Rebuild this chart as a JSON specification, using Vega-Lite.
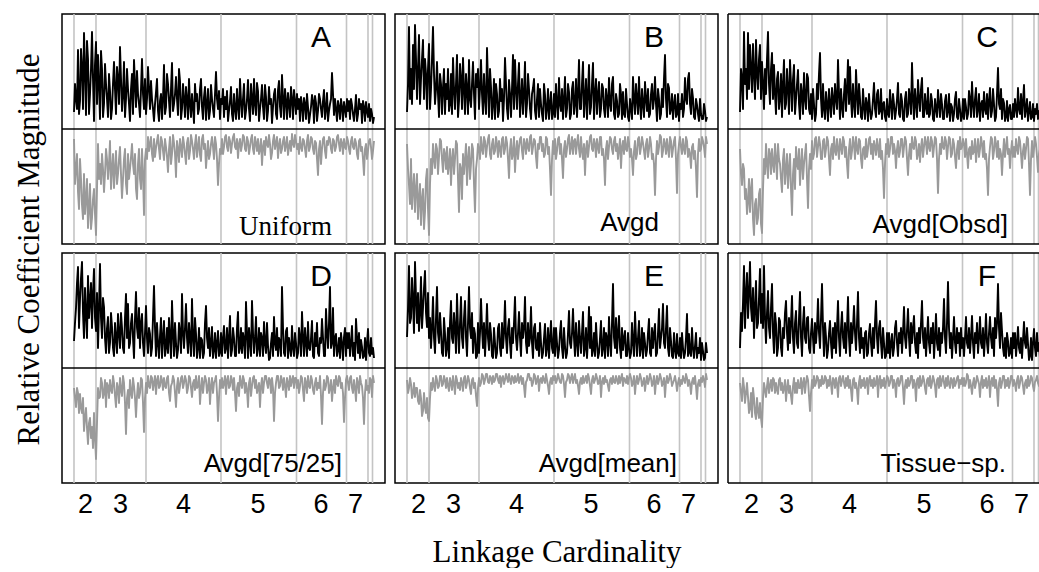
{
"$schema": "https://vega.github.io/schema/vega-lite/v6.json",
"background": "white",
"padding": {"left": 12, "top": 12, "right": 0, "bottom": 0},
"bounds": "flush",
"columns": 3,
"spacing": {"row": 9, "column": 10},
"config": {"view": {"stroke": "black", "strokeWidth": 1.5}, "text": {"font": "Liberation Sans", "color": "black"}, "line": {"strokeJoin": "round"}},
"datasets": {
"bounds": [{"b":12},{"b":34},{"b":84},{"b":159},{"b":234.5},{"b":284.5},{"b":306},{"b":310.5}],
"A": [
{"x":12,"u":17,"d":-10},{"x":14,"u":30,"d":-40},{"x":16,"u":79,"d":-63},{"x":18,"u":28,"d":-30},{"x":20,"u":62,"d":-76},{"x":22,"u":96,"d":-45},{"x":24,"u":14,"d":-70},{"x":26,"u":70,"d":-99},{"x":28,"u":35,"d":-55},{"x":30,"u":97,"d":-89},{"x":32,"u":8,"d":-60},{"x":34,"u":87,"d":-106},
{"x":36,"u":74,"d":-15},{"x":38,"u":10,"d":-35},{"x":40,"u":60,"d":-25},{"x":42,"u":25,"d":-63},{"x":44,"u":45,"d":-20},{"x":46,"u":12,"d":-50},{"x":48,"u":38,"d":-12},{"x":50,"u":20,"d":-40},{"x":52,"u":67,"d":-59},{"x":54,"u":15,"d":-22},{"x":56,"u":50,"d":-45},{"x":58,"u":82,"d":-18},{"x":60,"u":18,"d":-69},{"x":62,"u":67,"d":-30},{"x":64,"u":30,"d":-55},{"x":66,"u":40,"d":-25},{"x":68,"u":8,"d":-40},{"x":70,"u":55,"d":-15},{"x":72,"u":69,"d":-45},{"x":74,"u":22,"d":-60},{"x":76,"u":35,"d":-35},{"x":78,"u":12,"d":-50},{"x":80,"u":70,"d":-20},{"x":82,"u":20,"d":-86},
{"x":84,"u":15,"d":-20},{"x":86,"u":62,"d":-8},{"x":88,"u":20,"d":-15},{"x":90,"u":30,"d":-25},{"x":92,"u":8,"d":-10},{"x":94,"u":37,"d":-19},{"x":96,"u":18,"d":-6},{"x":98,"u":28,"d":-30},{"x":100,"u":10,"d":-12},{"x":102,"u":64,"d":-31},{"x":104,"u":22,"d":-18},{"x":106,"u":45,"d":-43},{"x":108,"u":12,"d":-8},{"x":110,"u":66,"d":-25},{"x":112,"u":25,"d":-14},{"x":114,"u":52,"d":-48},{"x":116,"u":14,"d":-20},{"x":118,"u":48,"d":-10},{"x":120,"u":20,"d":-28},{"x":122,"u":30,"d":-15},{"x":124,"u":42,"d":-35},{"x":126,"u":10,"d":-9},{"x":128,"u":25,"d":-22},{"x":130,"u":35,"d":-12},{"x":132,"u":6,"d":-30},{"x":134,"u":28,"d":-6},{"x":136,"u":15,"d":-18},{"x":138,"u":40,"d":-26},{"x":140,"u":22,"d":-10},{"x":142,"u":32,"d":-20},{"x":144,"u":9,"d":-39},{"x":146,"u":40,"d":-12},{"x":148,"u":18,"d":-25},{"x":150,"u":30,"d":-8},{"x":152,"u":12,"d":-30},{"x":154,"u":57,"d":-15},{"x":156,"u":20,"d":-56},{"x":158,"u":10,"d":-20},
{"x":160,"u":25,"d":-10},{"x":162,"u":12,"d":-18},{"x":164,"u":20,"d":-6},{"x":166,"u":8,"d":-22},{"x":168,"u":28,"d":-12},{"x":170,"u":15,"d":-15},{"x":172,"u":35,"d":-5},{"x":174,"u":10,"d":-20},{"x":176,"u":22,"d":-29},{"x":178,"u":50,"d":-10},{"x":180,"u":12,"d":-16},{"x":182,"u":45,"d":-8},{"x":184,"u":18,"d":-22},{"x":186,"u":49,"d":-12},{"x":188,"u":8,"d":-18},{"x":190,"u":30,"d":-6},{"x":192,"u":50,"d":-25},{"x":194,"u":14,"d":-14},{"x":196,"u":38,"d":-10},{"x":198,"u":20,"d":-20},{"x":200,"u":44,"d":-36},{"x":202,"u":10,"d":-12},{"x":204,"u":32,"d":-8},{"x":206,"u":18,"d":-18},{"x":208,"u":25,"d":-15},{"x":210,"u":6,"d":-24},{"x":212,"u":35,"d":-6},{"x":214,"u":15,"d":-14},{"x":216,"u":39,"d":-29},{"x":218,"u":22,"d":-10},{"x":220,"u":54,"d":-20},{"x":222,"u":10,"d":-8},{"x":224,"u":28,"d":-16},{"x":226,"u":36,"d":-26},{"x":228,"u":12,"d":-12},{"x":230,"u":30,"d":-5},{"x":232,"u":39,"d":-18},{"x":234,"u":15,"d":-12},
{"x":236,"u":20,"d":-15},{"x":238,"u":8,"d":-8},{"x":240,"u":24,"d":-22},{"x":242,"u":31,"d":-12},{"x":244,"u":10,"d":-28},{"x":246,"u":22,"d":-6},{"x":248,"u":14,"d":-18},{"x":250,"u":34,"d":-10},{"x":252,"u":6,"d":-25},{"x":254,"u":26,"d":-14},{"x":256,"u":18,"d":-46},{"x":258,"u":30,"d":-12},{"x":260,"u":12,"d":-20},{"x":262,"u":39,"d":-8},{"x":264,"u":20,"d":-29},{"x":266,"u":8,"d":-16},{"x":268,"u":25,"d":-10},{"x":270,"u":56,"d":-24},{"x":272,"u":14,"d":-12},{"x":274,"u":20,"d":-18},{"x":276,"u":28,"d":-6},{"x":278,"u":10,"d":-22},{"x":280,"u":22,"d":-14},{"x":282,"u":27,"d":-10},{"x":284,"u":12,"d":-20},
{"x":286,"u":18,"d":-12},{"x":288,"u":10,"d":-25},{"x":290,"u":24,"d":-8},{"x":292,"u":8,"d":-20},{"x":294,"u":34,"d":-14},{"x":296,"u":15,"d":-30},{"x":298,"u":20,"d":-10},{"x":300,"u":6,"d":-18},{"x":302,"u":22,"d":-46},{"x":304,"u":27,"d":-15},{"x":306,"u":12,"d":-22},
{"x":308,"u":8,"d":-10},{"x":310,"u":15,"d":-30},{"x":312,"u":12,"d":-12},
{"x":13,"u":45,"d":-55},{"x":15,"u":20,"d":-25},{"x":17,"u":15,"d":-80},{"x":19,"u":80,"d":-50},{"x":21,"u":20,"d":-90},{"x":23,"u":60,"d":-85},{"x":25,"u":88,"d":-50},{"x":27,"u":15,"d":-80},{"x":29,"u":60,"d":-100},{"x":31,"u":50,"d":-70},{"x":33,"u":65,"d":-85},{"x":35,"u":25,"d":-60},
{"x":37,"u":45,"d":-50},{"x":39,"u":78,"d":-55},{"x":41,"u":12,"d":-40},{"x":43,"u":65,"d":-45},{"x":45,"u":30,"d":-30},{"x":47,"u":55,"d":-35},{"x":49,"u":10,"d":-60},{"x":51,"u":45,"d":-25},{"x":53,"u":40,"d":-40},{"x":55,"u":62,"d":-55},{"x":57,"u":25,"d":-30},{"x":59,"u":50,"d":-45},{"x":61,"u":35,"d":-50},{"x":63,"u":12,"d":-20},{"x":65,"u":60,"d":-65},{"x":67,"u":25,"d":-50},{"x":69,"u":40,"d":-28},{"x":71,"u":15,"d":-35},{"x":73,"u":45,"d":-25},{"x":75,"u":58,"d":-70},{"x":77,"u":25,"d":-20},{"x":79,"u":40,"d":-60},{"x":81,"u":35,"d":-45},{"x":83,"u":50,"d":-30},
{"x":85,"u":30,"d":-30},{"x":87,"u":40,"d":-22},{"x":89,"u":48,"d":-8},{"x":91,"u":20,"d":-32},{"x":93,"u":25,"d":-28},{"x":95,"u":50,"d":-12},{"x":97,"u":8,"d":-20},{"x":99,"u":35,"d":-8},{"x":101,"u":30,"d":-22},{"x":103,"u":15,"d":-10},{"x":105,"u":55,"d":-28},{"x":107,"u":28,"d":-20},{"x":109,"u":40,"d":-35},{"x":111,"u":18,"d":-6},{"x":113,"u":35,"d":-25},{"x":115,"u":30,"d":-12},{"x":117,"u":60,"d":-33},{"x":119,"u":10,"d":-18},{"x":121,"u":45,"d":-8},{"x":123,"u":12,"d":-25},{"x":125,"u":30,"d":-14},{"x":127,"u":50,"d":-30},{"x":129,"u":12,"d":-6},{"x":131,"u":22,"d":-20},{"x":133,"u":45,"d":-15},{"x":135,"u":35,"d":-28},{"x":137,"u":20,"d":-8},{"x":139,"u":50,"d":-32},{"x":141,"u":10,"d":-6},{"x":143,"u":42,"d":-15},{"x":145,"u":25,"d":-25},{"x":147,"u":10,"d":-30},{"x":149,"u":44,"d":-15},{"x":151,"u":20,"d":-18},{"x":153,"u":35,"d":-8},{"x":155,"u":30,"d":-30},{"x":157,"u":38,"d":-35},{"x":159,"u":30,"d":-25},
{"x":161,"u":40,"d":-25},{"x":163,"u":32,"d":-8},{"x":165,"u":38,"d":-18},{"x":167,"u":18,"d":-8},{"x":169,"u":42,"d":-24},{"x":171,"u":8,"d":-8},{"x":173,"u":20,"d":-18},{"x":175,"u":40,"d":-10},{"x":177,"u":10,"d":-15},{"x":179,"u":28,"d":-22},{"x":181,"u":30,"d":-6},{"x":183,"u":10,"d":-20},{"x":185,"u":30,"d":-8},{"x":187,"u":20,"d":-25},{"x":189,"u":45,"d":-10},{"x":191,"u":15,"d":-20},{"x":193,"u":25,"d":-8},{"x":195,"u":46,"d":-22},{"x":197,"u":8,"d":-25},{"x":199,"u":30,"d":-10},{"x":201,"u":22,"d":-18},{"x":203,"u":44,"d":-26},{"x":205,"u":8,"d":-15},{"x":207,"u":42,"d":-6},{"x":209,"u":30,"d":-30},{"x":211,"u":22,"d":-12},{"x":213,"u":40,"d":-20},{"x":215,"u":10,"d":-8},{"x":217,"u":48,"d":-16},{"x":219,"u":12,"d":-24},{"x":221,"u":30,"d":-12},{"x":223,"u":40,"d":-22},{"x":225,"u":10,"d":-8},{"x":227,"u":25,"d":-18},{"x":229,"u":42,"d":-22},{"x":231,"u":10,"d":-15},{"x":233,"u":28,"d":-6},{"x":235,"u":35,"d":-20},
{"x":237,"u":30,"d":-25},{"x":239,"u":32,"d":-18},{"x":241,"u":8,"d":-10},{"x":243,"u":25,"d":-20},{"x":245,"u":35,"d":-12},{"x":247,"u":6,"d":-22},{"x":249,"u":22,"d":-8},{"x":251,"u":28,"d":-20},{"x":253,"u":33,"d":-12},{"x":255,"u":8,"d":-30},{"x":257,"u":35,"d":-20},{"x":259,"u":20,"d":-35},{"x":261,"u":28,"d":-10},{"x":263,"u":10,"d":-22},{"x":265,"u":36,"d":-12},{"x":267,"u":18,"d":-8},{"x":269,"u":30,"d":-20},{"x":271,"u":35,"d":-10},{"x":273,"u":30,"d":-22},{"x":275,"u":8,"d":-8},{"x":277,"u":22,"d":-15},{"x":279,"u":30,"d":-10},{"x":281,"u":8,"d":-25},{"x":283,"u":20,"d":-18},{"x":285,"u":30,"d":-8},
{"x":287,"u":28,"d":-20},{"x":289,"u":30,"d":-12},{"x":291,"u":15,"d":-18},{"x":293,"u":20,"d":-10},{"x":295,"u":8,"d":-25},{"x":297,"u":30,"d":-12},{"x":299,"u":25,"d":-22},{"x":301,"u":28,"d":-30},{"x":303,"u":8,"d":-20},{"x":305,"u":18,"d":-30},{"x":307,"u":25,"d":-12},{"x":309,"u":20,"d":-18},{"x":311,"u":6,"d":-22}
],
"B": [
{"x":12,"u":17,"d":-15},{"x":14,"u":102,"d":-56},{"x":16,"u":60,"d":-30},{"x":18,"u":84,"d":-60},{"x":20,"u":104,"d":-83},{"x":22,"u":30,"d":-45},{"x":24,"u":94,"d":-70},{"x":26,"u":50,"d":-96},{"x":28,"u":89,"d":-60},{"x":30,"u":70,"d":-83},{"x":32,"u":20,"d":-40},{"x":34,"u":85,"d":-106},
{"x":36,"u":40,"d":-30},{"x":38,"u":102,"d":-15},{"x":40,"u":25,"d":-39},{"x":42,"u":67,"d":-20},{"x":44,"u":12,"d":-28},{"x":46,"u":45,"d":-12},{"x":48,"u":41,"d":-43},{"x":50,"u":15,"d":-25},{"x":52,"u":30,"d":-18},{"x":54,"u":18,"d":-35},{"x":56,"u":55,"d":-56},{"x":58,"u":71,"d":-20},{"x":60,"u":20,"d":-30},{"x":62,"u":74,"d":-15},{"x":64,"u":28,"d":-83},{"x":66,"u":50,"d":-40},{"x":68,"u":71,"d":-25},{"x":70,"u":15,"d":-30},{"x":72,"u":40,"d":-56},{"x":74,"u":69,"d":-18},{"x":76,"u":22,"d":-35},{"x":78,"u":67,"d":-20},{"x":80,"u":10,"d":-83},{"x":82,"u":42,"d":-30},
{"x":84,"u":20,"d":-20},{"x":86,"u":69,"d":-8},{"x":88,"u":15,"d":-25},{"x":90,"u":30,"d":-12},{"x":92,"u":81,"d":-18},{"x":94,"u":12,"d":-6},{"x":96,"u":42,"d":-30},{"x":98,"u":25,"d":-10},{"x":100,"u":10,"d":-22},{"x":102,"u":35,"d":-15},{"x":104,"u":18,"d":-12},{"x":106,"u":28,"d":-28},{"x":108,"u":8,"d":-8},{"x":110,"u":71,"d":-20},{"x":112,"u":20,"d":-14},{"x":114,"u":49,"d":-49},{"x":116,"u":12,"d":-10},{"x":118,"u":74,"d":-25},{"x":120,"u":69,"d":-43},{"x":122,"u":20,"d":-12},{"x":124,"u":66,"d":-18},{"x":126,"u":30,"d":-8},{"x":128,"u":15,"d":-30},{"x":130,"u":67,"d":-15},{"x":132,"u":25,"d":-10},{"x":134,"u":40,"d":-22},{"x":136,"u":10,"d":-6},{"x":138,"u":41,"d":-18},{"x":140,"u":18,"d":-12},{"x":142,"u":30,"d":-39},{"x":144,"u":12,"d":-20},{"x":146,"u":25,"d":-8},{"x":148,"u":8,"d":-15},{"x":150,"u":34,"d":-25},{"x":152,"u":20,"d":-10},{"x":154,"u":10,"d":-18},{"x":156,"u":37,"d":-66},{"x":158,"u":15,"d":-12},
{"x":160,"u":12,"d":-10},{"x":162,"u":25,"d":-22},{"x":164,"u":51,"d":-8},{"x":166,"u":18,"d":-15},{"x":168,"u":10,"d":-49},{"x":170,"u":52,"d":-12},{"x":172,"u":20,"d":-20},{"x":174,"u":37,"d":-6},{"x":176,"u":15,"d":-18},{"x":178,"u":47,"d":-25},{"x":180,"u":25,"d":-10},{"x":182,"u":12,"d":-14},{"x":184,"u":69,"d":-20},{"x":186,"u":20,"d":-8},{"x":188,"u":67,"d":-30},{"x":190,"u":30,"d":-46},{"x":192,"u":10,"d":-12},{"x":194,"u":64,"d":-18},{"x":196,"u":22,"d":-6},{"x":198,"u":66,"d":-22},{"x":200,"u":35,"d":-15},{"x":202,"u":15,"d":-10},{"x":204,"u":47,"d":-24},{"x":206,"u":20,"d":-8},{"x":208,"u":41,"d":-20},{"x":210,"u":12,"d":-56},{"x":212,"u":30,"d":-12},{"x":214,"u":51,"d":-18},{"x":216,"u":18,"d":-10},{"x":218,"u":52,"d":-25},{"x":220,"u":10,"d":-8},{"x":222,"u":28,"d":-15},{"x":224,"u":15,"d":-20},{"x":226,"u":35,"d":-39},{"x":228,"u":37,"d":-12},{"x":230,"u":12,"d":-8},{"x":232,"u":25,"d":-22},{"x":234,"u":8,"d":-14},
{"x":236,"u":20,"d":-20},{"x":238,"u":52,"d":-46},{"x":240,"u":15,"d":-12},{"x":242,"u":30,"d":-25},{"x":244,"u":52,"d":-8},{"x":246,"u":10,"d":-18},{"x":248,"u":25,"d":-14},{"x":250,"u":47,"d":-30},{"x":252,"u":18,"d":-10},{"x":254,"u":12,"d":-20},{"x":256,"u":35,"d":-15},{"x":258,"u":20,"d":-25},{"x":260,"u":52,"d":-66},{"x":262,"u":8,"d":-12},{"x":264,"u":30,"d":-18},{"x":266,"u":15,"d":-8},{"x":268,"u":22,"d":-22},{"x":270,"u":74,"d":-15},{"x":272,"u":12,"d":-10},{"x":274,"u":41,"d":-28},{"x":276,"u":20,"d":-12},{"x":278,"u":10,"d":-20},{"x":280,"u":34,"d":-8},{"x":282,"u":15,"d":-64},{"x":284,"u":8,"d":-15},
{"x":286,"u":20,"d":-18},{"x":288,"u":12,"d":-10},{"x":290,"u":51,"d":-25},{"x":292,"u":25,"d":-12},{"x":294,"u":56,"d":-20},{"x":296,"u":15,"d":-39},{"x":298,"u":31,"d":-15},{"x":300,"u":10,"d":-22},{"x":302,"u":24,"d":-68},{"x":304,"u":8,"d":-10},{"x":306,"u":15,"d":-20},
{"x":308,"u":10,"d":-12},{"x":310,"u":18,"d":-28},{"x":312,"u":12,"d":-15},
{"x":13,"u":45,"d":-40},{"x":15,"u":30,"d":-75},{"x":17,"u":25,"d":-80},{"x":19,"u":40,"d":-45},{"x":21,"u":70,"d":-60},{"x":23,"u":60,"d":-90},{"x":25,"u":25,"d":-55},{"x":27,"u":70,"d":-70},{"x":29,"u":30,"d":-100},{"x":31,"u":55,"d":-50},{"x":33,"u":60,"d":-80},{"x":35,"u":20,"d":-55},
{"x":37,"u":70,"d":-45},{"x":39,"u":55,"d":-30},{"x":41,"u":40,"d":-15},{"x":43,"u":35,"d":-45},{"x":45,"u":55,"d":-10},{"x":47,"u":15,"d":-30},{"x":49,"u":60,"d":-20},{"x":51,"u":45,"d":-40},{"x":53,"u":60,"d":-45},{"x":55,"u":25,"d":-20},{"x":57,"u":15,"d":-30},{"x":59,"u":40,"d":-45},{"x":61,"u":45,"d":-12},{"x":63,"u":12,"d":-50},{"x":65,"u":65,"d":-35},{"x":67,"u":20,"d":-70},{"x":69,"u":40,"d":-45},{"x":71,"u":55,"d":-15},{"x":73,"u":15,"d":-30},{"x":75,"u":30,"d":-50},{"x":77,"u":45,"d":-15},{"x":79,"u":35,"d":-55},{"x":81,"u":55,"d":-40},{"x":83,"u":60,"d":-15},
{"x":85,"u":40,"d":-30},{"x":87,"u":35,"d":-20},{"x":89,"u":55,"d":-8},{"x":91,"u":15,"d":-28},{"x":93,"u":45,"d":-10},{"x":95,"u":60,"d":-25},{"x":97,"u":10,"d":-15},{"x":99,"u":50,"d":-25},{"x":101,"u":45,"d":-8},{"x":103,"u":12,"d":-28},{"x":105,"u":50,"d":-20},{"x":107,"u":40,"d":-10},{"x":109,"u":30,"d":-25},{"x":111,"u":45,"d":-8},{"x":113,"u":10,"d":-30},{"x":115,"u":35,"d":-20},{"x":117,"u":40,"d":-30},{"x":119,"u":20,"d":-8},{"x":121,"u":40,"d":-22},{"x":123,"u":45,"d":-30},{"x":125,"u":12,"d":-10},{"x":127,"u":50,"d":-22},{"x":129,"u":35,"d":-10},{"x":131,"u":12,"d":-25},{"x":133,"u":55,"d":-18},{"x":135,"u":20,"d":-8},{"x":137,"u":35,"d":-25},{"x":139,"u":50,"d":-10},{"x":141,"u":10,"d":-28},{"x":143,"u":45,"d":-15},{"x":145,"u":40,"d":-8},{"x":147,"u":15,"d":-22},{"x":149,"u":45,"d":-28},{"x":151,"u":10,"d":-8},{"x":153,"u":40,"d":-25},{"x":155,"u":25,"d":-40},{"x":157,"u":10,"d":-30},{"x":159,"u":35,"d":-25},
{"x":161,"u":45,"d":-30},{"x":163,"u":10,"d":-10},{"x":165,"u":25,"d":-25},{"x":167,"u":40,"d":-30},{"x":169,"u":30,"d":-20},{"x":171,"u":12,"d":-28},{"x":173,"u":45,"d":-10},{"x":175,"u":10,"d":-25},{"x":177,"u":40,"d":-8},{"x":179,"u":15,"d":-12},{"x":181,"u":50,"d":-25},{"x":183,"u":35,"d":-6},{"x":185,"u":20,"d":-28},{"x":187,"u":45,"d":-22},{"x":189,"u":12,"d":-15},{"x":191,"u":50,"d":-20},{"x":193,"u":35,"d":-28},{"x":195,"u":15,"d":-8},{"x":197,"u":45,"d":-20},{"x":199,"u":10,"d":-10},{"x":201,"u":50,"d":-28},{"x":203,"u":35,"d":-18},{"x":205,"u":12,"d":-8},{"x":207,"u":45,"d":-26},{"x":209,"u":20,"d":-30},{"x":211,"u":40,"d":-20},{"x":213,"u":12,"d":-30},{"x":215,"u":25,"d":-8},{"x":217,"u":45,"d":-20},{"x":219,"u":15,"d":-12},{"x":221,"u":35,"d":-22},{"x":223,"u":12,"d":-30},{"x":225,"u":45,"d":-10},{"x":227,"u":10,"d":-18},{"x":229,"u":15,"d":-25},{"x":231,"u":40,"d":-20},{"x":233,"u":12,"d":-8},{"x":235,"u":30,"d":-28},
{"x":237,"u":10,"d":-30},{"x":239,"u":30,"d":-22},{"x":241,"u":45,"d":-30},{"x":243,"u":15,"d":-10},{"x":245,"u":25,"d":-25},{"x":247,"u":40,"d":-8},{"x":249,"u":12,"d":-22},{"x":251,"u":30,"d":-15},{"x":253,"u":40,"d":-28},{"x":255,"u":15,"d":-8},{"x":257,"u":45,"d":-30},{"x":259,"u":30,"d":-35},{"x":261,"u":25,"d":-30},{"x":263,"u":40,"d":-25},{"x":265,"u":10,"d":-6},{"x":267,"u":40,"d":-28},{"x":269,"u":50,"d":-10},{"x":271,"u":30,"d":-25},{"x":273,"u":45,"d":-20},{"x":275,"u":15,"d":-8},{"x":277,"u":35,"d":-28},{"x":279,"u":25,"d":-12},{"x":281,"u":12,"d":-30},{"x":283,"u":35,"d":-25},{"x":285,"u":25,"d":-8},
{"x":287,"u":35,"d":-25},{"x":289,"u":20,"d":-20},{"x":291,"u":30,"d":-8},{"x":293,"u":50,"d":-28},{"x":295,"u":25,"d":-25},{"x":297,"u":40,"d":-18},{"x":299,"u":12,"d":-30},{"x":301,"u":30,"d":-40},{"x":303,"u":15,"d":-25},{"x":305,"u":30,"d":-22},{"x":307,"u":10,"d":-8},{"x":309,"u":25,"d":-18},{"x":311,"u":8,"d":-8}
],
"C": [
{"x":12,"u":17,"d":-20},{"x":14,"u":51,"d":-56},{"x":16,"u":97,"d":-40},{"x":18,"u":60,"d":-60},{"x":20,"u":96,"d":-73},{"x":22,"u":84,"d":-83},{"x":24,"u":37,"d":-50},{"x":26,"u":55,"d":-106},{"x":28,"u":89,"d":-70},{"x":30,"u":40,"d":-89},{"x":32,"u":84,"d":-60},{"x":34,"u":67,"d":-104},
{"x":36,"u":20,"d":-30},{"x":38,"u":35,"d":-15},{"x":40,"u":97,"d":-49},{"x":42,"u":25,"d":-25},{"x":44,"u":76,"d":-20},{"x":46,"u":64,"d":-43},{"x":48,"u":15,"d":-30},{"x":50,"u":57,"d":-15},{"x":52,"u":30,"d":-35},{"x":54,"u":12,"d":-63},{"x":56,"u":69,"d":-20},{"x":58,"u":25,"d":-40},{"x":60,"u":40,"d":-59},{"x":62,"u":69,"d":-25},{"x":64,"u":18,"d":-86},{"x":66,"u":64,"d":-30},{"x":68,"u":30,"d":-18},{"x":70,"u":59,"d":-40},{"x":72,"u":10,"d":-56},{"x":74,"u":35,"d":-20},{"x":76,"u":56,"d":-35},{"x":78,"u":20,"d":-15},{"x":80,"u":51,"d":-79},{"x":82,"u":15,"d":-25},
{"x":84,"u":10,"d":-12},{"x":86,"u":25,"d":-25},{"x":88,"u":15,"d":-8},{"x":90,"u":30,"d":-18},{"x":92,"u":76,"d":-15},{"x":94,"u":12,"d":-30},{"x":96,"u":20,"d":-10},{"x":98,"u":37,"d":-20},{"x":100,"u":8,"d":-12},{"x":102,"u":25,"d":-46},{"x":104,"u":41,"d":-15},{"x":106,"u":15,"d":-8},{"x":108,"u":30,"d":-26},{"x":110,"u":69,"d":-20},{"x":112,"u":10,"d":-10},{"x":114,"u":22,"d":-25},{"x":116,"u":35,"d":-12},{"x":118,"u":18,"d":-18},{"x":120,"u":69,"d":-49},{"x":122,"u":62,"d":-10},{"x":124,"u":12,"d":-22},{"x":126,"u":25,"d":-15},{"x":128,"u":59,"d":-8},{"x":130,"u":15,"d":-25},{"x":132,"u":30,"d":-12},{"x":134,"u":10,"d":-39},{"x":136,"u":22,"d":-18},{"x":138,"u":31,"d":-10},{"x":140,"u":8,"d":-20},{"x":142,"u":20,"d":-8},{"x":144,"u":15,"d":-15},{"x":146,"u":46,"d":-12},{"x":148,"u":12,"d":-26},{"x":150,"u":39,"d":-18},{"x":152,"u":18,"d":-10},{"x":154,"u":10,"d":-22},{"x":156,"u":27,"d":-69},{"x":158,"u":8,"d":-15},
{"x":160,"u":15,"d":-10},{"x":162,"u":39,"d":-20},{"x":164,"u":10,"d":-8},{"x":166,"u":25,"d":-15},{"x":168,"u":18,"d":-39},{"x":170,"u":46,"d":-12},{"x":172,"u":12,"d":-22},{"x":174,"u":28,"d":-10},{"x":176,"u":8,"d":-18},{"x":178,"u":37,"d":-12},{"x":180,"u":15,"d":-46},{"x":182,"u":30,"d":-15},{"x":184,"u":66,"d":-8},{"x":186,"u":10,"d":-20},{"x":188,"u":25,"d":-12},{"x":190,"u":49,"d":-25},{"x":192,"u":18,"d":-33},{"x":194,"u":51,"d":-10},{"x":196,"u":12,"d":-18},{"x":198,"u":22,"d":-14},{"x":200,"u":41,"d":-8},{"x":202,"u":15,"d":-22},{"x":204,"u":28,"d":-12},{"x":206,"u":8,"d":-18},{"x":208,"u":20,"d":-10},{"x":210,"u":39,"d":-64},{"x":212,"u":12,"d":-15},{"x":214,"u":25,"d":-8},{"x":216,"u":10,"d":-20},{"x":218,"u":34,"d":-12},{"x":220,"u":18,"d":-18},{"x":222,"u":8,"d":-10},{"x":224,"u":22,"d":-25},{"x":226,"u":15,"d":-15},{"x":228,"u":37,"d":-39},{"x":230,"u":10,"d":-12},{"x":232,"u":20,"d":-8},{"x":234,"u":12,"d":-18},
{"x":236,"u":10,"d":-15},{"x":238,"u":22,"d":-10},{"x":240,"u":15,"d":-39},{"x":242,"u":30,"d":-18},{"x":244,"u":47,"d":-12},{"x":246,"u":12,"d":-22},{"x":248,"u":41,"d":-33},{"x":250,"u":20,"d":-10},{"x":252,"u":8,"d":-20},{"x":254,"u":28,"d":-15},{"x":256,"u":37,"d":-12},{"x":258,"u":15,"d":-25},{"x":260,"u":10,"d":-66},{"x":262,"u":41,"d":-18},{"x":264,"u":18,"d":-10},{"x":266,"u":25,"d":-22},{"x":268,"u":12,"d":-15},{"x":270,"u":61,"d":-12},{"x":272,"u":20,"d":-20},{"x":274,"u":10,"d":-46},{"x":276,"u":26,"d":-10},{"x":278,"u":12,"d":-18},{"x":280,"u":8,"d":-25},{"x":282,"u":24,"d":-39},{"x":284,"u":10,"d":-12},
{"x":286,"u":12,"d":-18},{"x":288,"u":20,"d":-10},{"x":290,"u":41,"d":-25},{"x":292,"u":15,"d":-12},{"x":294,"u":10,"d":-39},{"x":296,"u":44,"d":-15},{"x":298,"u":20,"d":-20},{"x":300,"u":8,"d":-10},{"x":302,"u":27,"d":-66},{"x":304,"u":12,"d":-12},{"x":306,"u":8,"d":-20},
{"x":308,"u":15,"d":-15},{"x":310,"u":10,"d":-43},{"x":312,"u":12,"d":-20},
{"x":13,"u":60,"d":-45},{"x":15,"u":20,"d":-35},{"x":17,"u":45,"d":-70},{"x":19,"u":30,"d":-85},{"x":21,"u":40,"d":-50},{"x":23,"u":60,"d":-60},{"x":25,"u":85,"d":-90},{"x":27,"u":30,"d":-75},{"x":29,"u":55,"d":-95},{"x":31,"u":70,"d":-65},{"x":33,"u":30,"d":-95},{"x":35,"u":45,"d":-60},
{"x":37,"u":60,"d":-45},{"x":39,"u":70,"d":-35},{"x":41,"u":45,"d":-20},{"x":43,"u":60,"d":-45},{"x":45,"u":30,"d":-35},{"x":47,"u":35,"d":-15},{"x":49,"u":50,"d":-50},{"x":51,"u":20,"d":-30},{"x":53,"u":55,"d":-50},{"x":55,"u":45,"d":-30},{"x":57,"u":20,"d":-55},{"x":59,"u":60,"d":-25},{"x":61,"u":15,"d":-40},{"x":63,"u":45,"d":-60},{"x":65,"u":50,"d":-45},{"x":67,"u":15,"d":-60},{"x":69,"u":45,"d":-35},{"x":71,"u":25,"d":-20},{"x":73,"u":45,"d":-35},{"x":75,"u":15,"d":-50},{"x":77,"u":30,"d":-25},{"x":79,"u":55,"d":-50},{"x":81,"u":20,"d":-40},{"x":83,"u":35,"d":-40},
{"x":85,"u":40,"d":-30},{"x":87,"u":8,"d":-10},{"x":89,"u":45,"d":-28},{"x":91,"u":55,"d":-8},{"x":93,"u":30,"d":-30},{"x":95,"u":45,"d":-12},{"x":97,"u":10,"d":-28},{"x":99,"u":25,"d":-8},{"x":101,"u":40,"d":-30},{"x":103,"u":12,"d":-20},{"x":105,"u":30,"d":-30},{"x":107,"u":45,"d":-22},{"x":109,"u":20,"d":-10},{"x":111,"u":35,"d":-30},{"x":113,"u":40,"d":-18},{"x":115,"u":12,"d":-8},{"x":117,"u":50,"d":-28},{"x":119,"u":40,"d":-35},{"x":121,"u":25,"d":-20},{"x":123,"u":30,"d":-30},{"x":125,"u":45,"d":-8},{"x":127,"u":12,"d":-30},{"x":129,"u":35,"d":-20},{"x":131,"u":45,"d":-10},{"x":133,"u":12,"d":-30},{"x":135,"u":40,"d":-20},{"x":137,"u":10,"d":-30},{"x":139,"u":25,"d":-28},{"x":141,"u":35,"d":-10},{"x":143,"u":10,"d":-25},{"x":145,"u":30,"d":-30},{"x":147,"u":20,"d":-18},{"x":149,"u":35,"d":-10},{"x":151,"u":15,"d":-28},{"x":153,"u":40,"d":-30},{"x":155,"u":25,"d":-40},{"x":157,"u":12,"d":-35},{"x":159,"u":30,"d":-25},
{"x":161,"u":12,"d":-28},{"x":163,"u":25,"d":-8},{"x":165,"u":35,"d":-25},{"x":167,"u":10,"d":-22},{"x":169,"u":30,"d":-20},{"x":171,"u":15,"d":-28},{"x":173,"u":35,"d":-10},{"x":175,"u":10,"d":-28},{"x":177,"u":30,"d":-8},{"x":179,"u":12,"d":-30},{"x":181,"u":40,"d":-25},{"x":183,"u":15,"d":-30},{"x":185,"u":30,"d":-18},{"x":187,"u":40,"d":-8},{"x":189,"u":12,"d":-30},{"x":191,"u":30,"d":-15},{"x":193,"u":40,"d":-18},{"x":195,"u":12,"d":-28},{"x":197,"u":35,"d":-8},{"x":199,"u":15,"d":-25},{"x":201,"u":12,"d":-18},{"x":203,"u":35,"d":-8},{"x":205,"u":10,"d":-28},{"x":207,"u":30,"d":-8},{"x":209,"u":12,"d":-30},{"x":211,"u":25,"d":-30},{"x":213,"u":35,"d":-25},{"x":215,"u":10,"d":-18},{"x":217,"u":28,"d":-8},{"x":219,"u":12,"d":-30},{"x":221,"u":35,"d":-8},{"x":223,"u":25,"d":-28},{"x":225,"u":8,"d":-10},{"x":227,"u":30,"d":-28},{"x":229,"u":12,"d":-20},{"x":231,"u":30,"d":-30},{"x":233,"u":8,"d":-20},{"x":235,"u":30,"d":-10},
{"x":237,"u":30,"d":-28},{"x":239,"u":10,"d":-25},{"x":241,"u":38,"d":-20},{"x":243,"u":12,"d":-30},{"x":245,"u":25,"d":-25},{"x":247,"u":30,"d":-10},{"x":249,"u":12,"d":-20},{"x":251,"u":35,"d":-28},{"x":253,"u":25,"d":-8},{"x":255,"u":12,"d":-28},{"x":257,"u":20,"d":-30},{"x":259,"u":35,"d":-40},{"x":261,"u":28,"d":-30},{"x":263,"u":12,"d":-8},{"x":265,"u":40,"d":-30},{"x":267,"u":8,"d":-8},{"x":269,"u":35,"d":-28},{"x":271,"u":25,"d":-30},{"x":273,"u":40,"d":-25},{"x":275,"u":30,"d":-25},{"x":277,"u":8,"d":-28},{"x":279,"u":28,"d":-8},{"x":281,"u":20,"d":-20},{"x":283,"u":10,"d":-22},{"x":285,"u":25,"d":-28},
{"x":287,"u":30,"d":-28},{"x":289,"u":12,"d":-20},{"x":291,"u":20,"d":-8},{"x":293,"u":35,"d":-25},{"x":295,"u":28,"d":-22},{"x":297,"u":12,"d":-30},{"x":299,"u":30,"d":-8},{"x":301,"u":18,"d":-35},{"x":303,"u":10,"d":-30},{"x":305,"u":25,"d":-28},{"x":307,"u":20,"d":-8},{"x":309,"u":25,"d":-28},{"x":311,"u":18,"d":-25}
],
"D": [
{"x":12,"u":27,"d":-20},{"x":14,"u":60,"d":-39},{"x":16,"u":101,"d":-25},{"x":18,"u":69,"d":-26},{"x":20,"u":106,"d":-45},{"x":22,"u":30,"d":-63},{"x":24,"u":54,"d":-40},{"x":26,"u":92,"d":-76},{"x":28,"u":67,"d":-50},{"x":30,"u":40,"d":-59},{"x":32,"u":99,"d":-45},{"x":34,"u":37,"d":-91},
{"x":36,"u":20,"d":-20},{"x":38,"u":104,"d":-29},{"x":40,"u":30,"d":-15},{"x":42,"u":61,"d":-25},{"x":44,"u":15,"d":-39},{"x":46,"u":51,"d":-18},{"x":48,"u":25,"d":-12},{"x":50,"u":41,"d":-25},{"x":52,"u":12,"d":-15},{"x":54,"u":30,"d":-39},{"x":56,"u":54,"d":-20},{"x":58,"u":20,"d":-10},{"x":60,"u":40,"d":-28},{"x":62,"u":15,"d":-15},{"x":64,"u":74,"d":-66},{"x":66,"u":64,"d":-22},{"x":68,"u":25,"d":-12},{"x":70,"u":54,"d":-30},{"x":72,"u":10,"d":-18},{"x":74,"u":76,"d":-49},{"x":76,"u":30,"d":-15},{"x":78,"u":20,"d":-25},{"x":80,"u":54,"d":-12},{"x":82,"u":12,"d":-64},
{"x":84,"u":62,"d":-15},{"x":86,"u":15,"d":-8},{"x":88,"u":34,"d":-20},{"x":90,"u":20,"d":-10},{"x":92,"u":82,"d":-15},{"x":94,"u":12,"d":-26},{"x":96,"u":25,"d":-8},{"x":98,"u":32,"d":-18},{"x":100,"u":10,"d":-12},{"x":102,"u":47,"d":-10},{"x":104,"u":20,"d":-20},{"x":106,"u":15,"d":-8},{"x":108,"u":30,"d":-33},{"x":110,"u":67,"d":-15},{"x":112,"u":12,"d":-12},{"x":114,"u":25,"d":-39},{"x":116,"u":18,"d":-10},{"x":118,"u":35,"d":-18},{"x":120,"u":74,"d":-8},{"x":122,"u":20,"d":-15},{"x":124,"u":64,"d":-12},{"x":126,"u":15,"d":-20},{"x":128,"u":30,"d":-10},{"x":130,"u":69,"d":-29},{"x":132,"u":12,"d":-12},{"x":134,"u":34,"d":-8},{"x":136,"u":20,"d":-18},{"x":138,"u":10,"d":-36},{"x":140,"u":28,"d":-10},{"x":142,"u":15,"d":-15},{"x":144,"u":62,"d":-12},{"x":146,"u":20,"d":-20},{"x":148,"u":12,"d":-36},{"x":150,"u":41,"d":-10},{"x":152,"u":18,"d":-15},{"x":154,"u":10,"d":-8},{"x":156,"u":37,"d":-53},{"x":158,"u":15,"d":-12},
{"x":160,"u":12,"d":-10},{"x":162,"u":42,"d":-15},{"x":164,"u":20,"d":-26},{"x":166,"u":10,"d":-8},{"x":168,"u":52,"d":-18},{"x":170,"u":18,"d":-12},{"x":172,"u":30,"d":-10},{"x":174,"u":12,"d":-43},{"x":176,"u":56,"d":-15},{"x":178,"u":20,"d":-8},{"x":180,"u":15,"d":-20},{"x":182,"u":28,"d":-12},{"x":184,"u":66,"d":-15},{"x":186,"u":10,"d":-39},{"x":188,"u":25,"d":-10},{"x":190,"u":67,"d":-18},{"x":192,"u":15,"d":-8},{"x":194,"u":51,"d":-12},{"x":196,"u":20,"d":-20},{"x":198,"u":12,"d":-39},{"x":200,"u":30,"d":-10},{"x":202,"u":46,"d":-15},{"x":204,"u":15,"d":-8},{"x":206,"u":22,"d":-20},{"x":208,"u":10,"d":-12},{"x":210,"u":35,"d":-10},{"x":212,"u":51,"d":-53},{"x":214,"u":18,"d":-15},{"x":216,"u":12,"d":-8},{"x":218,"u":25,"d":-18},{"x":220,"u":81,"d":-12},{"x":222,"u":15,"d":-10},{"x":224,"u":37,"d":-29},{"x":226,"u":10,"d":-15},{"x":228,"u":20,"d":-8},{"x":230,"u":42,"d":-12},{"x":232,"u":12,"d":-20},{"x":234,"u":25,"d":-10},
{"x":236,"u":15,"d":-12},{"x":238,"u":30,"d":-18},{"x":240,"u":56,"d":-10},{"x":242,"u":12,"d":-33},{"x":244,"u":25,"d":-15},{"x":246,"u":46,"d":-8},{"x":248,"u":18,"d":-20},{"x":250,"u":47,"d":-12},{"x":252,"u":10,"d":-26},{"x":254,"u":22,"d":-10},{"x":256,"u":15,"d":-15},{"x":258,"u":30,"d":-8},{"x":260,"u":49,"d":-56},{"x":262,"u":12,"d":-12},{"x":264,"u":59,"d":-18},{"x":266,"u":20,"d":-10},{"x":268,"u":81,"d":-20},{"x":270,"u":25,"d":-33},{"x":272,"u":12,"d":-12},{"x":274,"u":34,"d":-8},{"x":276,"u":18,"d":-18},{"x":278,"u":10,"d":-10},{"x":280,"u":25,"d":-15},{"x":282,"u":31,"d":-54},{"x":284,"u":12,"d":-12},
{"x":286,"u":20,"d":-15},{"x":288,"u":12,"d":-10},{"x":290,"u":42,"d":-20},{"x":292,"u":25,"d":-12},{"x":294,"u":49,"d":-33},{"x":296,"u":15,"d":-15},{"x":298,"u":10,"d":-8},{"x":300,"u":21,"d":-18},{"x":302,"u":12,"d":-56},{"x":304,"u":8,"d":-12},{"x":306,"u":39,"d":-18},
{"x":308,"u":12,"d":-10},{"x":310,"u":14,"d":-29},{"x":312,"u":10,"d":-15},
{"x":13,"u":45,"d":-30},{"x":15,"u":85,"d":-20},{"x":17,"u":40,"d":-45},{"x":19,"u":90,"d":-40},{"x":21,"u":55,"d":-30},{"x":23,"u":80,"d":-50},{"x":25,"u":30,"d":-60},{"x":27,"u":50,"d":-55},{"x":29,"u":85,"d":-70},{"x":31,"u":75,"d":-80},{"x":33,"u":50,"d":-70},{"x":35,"u":75,"d":-55},
{"x":37,"u":60,"d":-30},{"x":39,"u":50,"d":-10},{"x":41,"u":70,"d":-30},{"x":43,"u":30,"d":-12},{"x":45,"u":40,"d":-15},{"x":47,"u":15,"d":-30},{"x":49,"u":55,"d":-22},{"x":51,"u":20,"d":-8},{"x":53,"u":45,"d":-28},{"x":55,"u":15,"d":-15},{"x":57,"u":35,"d":-35},{"x":59,"u":55,"d":-22},{"x":61,"u":20,"d":-8},{"x":63,"u":50,"d":-35},{"x":65,"u":30,"d":-30},{"x":67,"u":20,"d":-40},{"x":69,"u":45,"d":-25},{"x":71,"u":30,"d":-10},{"x":73,"u":50,"d":-30},{"x":75,"u":40,"d":-28},{"x":77,"u":60,"d":-30},{"x":79,"u":45,"d":-10},{"x":81,"u":25,"d":-35},{"x":83,"u":35,"d":-30},
{"x":85,"u":30,"d":-25},{"x":87,"u":40,"d":-18},{"x":89,"u":12,"d":-8},{"x":91,"u":50,"d":-22},{"x":93,"u":40,"d":-8},{"x":95,"u":45,"d":-12},{"x":97,"u":10,"d":-20},{"x":99,"u":50,"d":-8},{"x":101,"u":30,"d":-22},{"x":103,"u":12,"d":-18},{"x":105,"u":40,"d":-10},{"x":107,"u":50,"d":-25},{"x":109,"u":10,"d":-18},{"x":111,"u":35,"d":-8},{"x":113,"u":45,"d":-25},{"x":115,"u":10,"d":-18},{"x":117,"u":45,"d":-25},{"x":119,"u":15,"d":-10},{"x":121,"u":35,"d":-20},{"x":123,"u":40,"d":-8},{"x":125,"u":30,"d":-25},{"x":127,"u":45,"d":-8},{"x":129,"u":12,"d":-20},{"x":131,"u":30,"d":-15},{"x":133,"u":50,"d":-22},{"x":135,"u":10,"d":-20},{"x":137,"u":40,"d":-8},{"x":139,"u":30,"d":-20},{"x":141,"u":10,"d":-25},{"x":143,"u":45,"d":-8},{"x":145,"u":30,"d":-25},{"x":147,"u":40,"d":-10},{"x":149,"u":25,"d":-18},{"x":151,"u":10,"d":-25},{"x":153,"u":35,"d":-12},{"x":155,"u":25,"d":-25},{"x":157,"u":12,"d":-30},{"x":159,"u":35,"d":-20},
{"x":161,"u":30,"d":-20},{"x":163,"u":15,"d":-8},{"x":165,"u":40,"d":-12},{"x":167,"u":30,"d":-20},{"x":169,"u":12,"d":-8},{"x":171,"u":40,"d":-22},{"x":173,"u":12,"d":-25},{"x":175,"u":40,"d":-20},{"x":177,"u":15,"d":-28},{"x":179,"u":40,"d":-15},{"x":181,"u":35,"d":-8},{"x":183,"u":10,"d":-25},{"x":185,"u":35,"d":-22},{"x":187,"u":40,"d":-15},{"x":189,"u":12,"d":-28},{"x":191,"u":35,"d":-10},{"x":193,"u":30,"d":-20},{"x":195,"u":12,"d":-25},{"x":197,"u":40,"d":-15},{"x":199,"u":35,"d":-18},{"x":201,"u":12,"d":-25},{"x":203,"u":25,"d":-8},{"x":205,"u":45,"d":-15},{"x":207,"u":8,"d":-10},{"x":209,"u":25,"d":-25},{"x":211,"u":12,"d":-20},{"x":213,"u":25,"d":-25},{"x":215,"u":40,"d":-8},{"x":217,"u":30,"d":-20},{"x":219,"u":12,"d":-8},{"x":221,"u":40,"d":-22},{"x":223,"u":12,"d":-18},{"x":225,"u":40,"d":-10},{"x":227,"u":30,"d":-22},{"x":229,"u":12,"d":-18},{"x":231,"u":20,"d":-8},{"x":233,"u":35,"d":-10},{"x":235,"u":10,"d":-20},
{"x":237,"u":40,"d":-25},{"x":239,"u":12,"d":-8},{"x":241,"u":30,"d":-22},{"x":243,"u":40,"d":-10},{"x":245,"u":12,"d":-25},{"x":247,"u":20,"d":-18},{"x":249,"u":30,"d":-8},{"x":251,"u":12,"d":-22},{"x":253,"u":35,"d":-15},{"x":255,"u":45,"d":-22},{"x":257,"u":12,"d":-20},{"x":259,"u":25,"d":-28},{"x":261,"u":30,"d":-25},{"x":263,"u":12,"d":-22},{"x":265,"u":35,"d":-8},{"x":267,"u":45,"d":-25},{"x":269,"u":20,"d":-12},{"x":271,"u":60,"d":-20},{"x":273,"u":30,"d":-25},{"x":275,"u":12,"d":-15},{"x":277,"u":30,"d":-8},{"x":279,"u":35,"d":-20},{"x":281,"u":8,"d":-25},{"x":283,"u":40,"d":-30},{"x":285,"u":35,"d":-8},
{"x":287,"u":35,"d":-22},{"x":289,"u":25,"d":-8},{"x":291,"u":12,"d":-25},{"x":293,"u":8,"d":-20},{"x":295,"u":30,"d":-10},{"x":297,"u":35,"d":-25},{"x":299,"u":28,"d":-15},{"x":301,"u":10,"d":-30},{"x":303,"u":30,"d":-25},{"x":305,"u":25,"d":-22},{"x":307,"u":15,"d":-25},{"x":309,"u":30,"d":-12},{"x":311,"u":20,"d":-8}
],
"E": [
{"x":12,"u":31,"d":-12},{"x":14,"u":102,"d":-20},{"x":16,"u":50,"d":-16},{"x":18,"u":67,"d":-25},{"x":20,"u":106,"d":-29},{"x":22,"u":45,"d":-20},{"x":24,"u":37,"d":-36},{"x":26,"u":91,"d":-30},{"x":28,"u":60,"d":-43},{"x":30,"u":97,"d":-39},{"x":32,"u":41,"d":-30},{"x":34,"u":30,"d":-53},
{"x":36,"u":20,"d":-15},{"x":38,"u":71,"d":-10},{"x":40,"u":15,"d":-23},{"x":42,"u":81,"d":-12},{"x":44,"u":25,"d":-18},{"x":46,"u":37,"d":-8},{"x":48,"u":12,"d":-16},{"x":50,"u":34,"d":-12},{"x":52,"u":20,"d":-10},{"x":54,"u":10,"d":-23},{"x":56,"u":67,"d":-15},{"x":58,"u":25,"d":-8},{"x":60,"u":40,"d":-26},{"x":62,"u":74,"d":-12},{"x":64,"u":15,"d":-15},{"x":66,"u":71,"d":-10},{"x":68,"u":20,"d":-23},{"x":70,"u":67,"d":-8},{"x":72,"u":12,"d":-15},{"x":74,"u":81,"d":-12},{"x":76,"u":30,"d":-26},{"x":78,"u":15,"d":-10},{"x":80,"u":34,"d":-15},{"x":82,"u":12,"d":-38},
{"x":84,"u":15,"d":-10},{"x":86,"u":69,"d":-15},{"x":88,"u":20,"d":-8},{"x":90,"u":12,"d":-12},{"x":92,"u":64,"d":-6},{"x":94,"u":18,"d":-15},{"x":96,"u":34,"d":-10},{"x":98,"u":10,"d":-8},{"x":100,"u":25,"d":-12},{"x":102,"u":15,"d":-6},{"x":104,"u":44,"d":-15},{"x":106,"u":12,"d":-19},{"x":108,"u":20,"d":-8},{"x":110,"u":67,"d":-12},{"x":112,"u":15,"d":-10},{"x":114,"u":49,"d":-6},{"x":116,"u":10,"d":-16},{"x":118,"u":25,"d":-10},{"x":120,"u":71,"d":-8},{"x":122,"u":18,"d":-12},{"x":124,"u":56,"d":-15},{"x":126,"u":12,"d":-8},{"x":128,"u":30,"d":-10},{"x":130,"u":71,"d":-29},{"x":132,"u":15,"d":-12},{"x":134,"u":22,"d":-6},{"x":136,"u":61,"d":-10},{"x":138,"u":10,"d":-15},{"x":140,"u":44,"d":-8},{"x":142,"u":18,"d":-12},{"x":144,"u":12,"d":-23},{"x":146,"u":25,"d":-10},{"x":148,"u":15,"d":-8},{"x":150,"u":44,"d":-15},{"x":152,"u":20,"d":-12},{"x":154,"u":10,"d":-26},{"x":156,"u":47,"d":-10},{"x":158,"u":15,"d":-8},
{"x":160,"u":12,"d":-8},{"x":162,"u":25,"d":-12},{"x":164,"u":18,"d":-10},{"x":166,"u":47,"d":-15},{"x":168,"u":10,"d":-8},{"x":170,"u":22,"d":-29},{"x":172,"u":15,"d":-12},{"x":174,"u":57,"d":-8},{"x":176,"u":20,"d":-10},{"x":178,"u":59,"d":-15},{"x":180,"u":12,"d":-6},{"x":182,"u":25,"d":-12},{"x":184,"u":47,"d":-26},{"x":186,"u":15,"d":-10},{"x":188,"u":56,"d":-8},{"x":190,"u":20,"d":-12},{"x":192,"u":10,"d":-15},{"x":194,"u":61,"d":-10},{"x":196,"u":51,"d":-26},{"x":198,"u":18,"d":-8},{"x":200,"u":12,"d":-12},{"x":202,"u":25,"d":-10},{"x":204,"u":15,"d":-15},{"x":206,"u":47,"d":-29},{"x":208,"u":20,"d":-10},{"x":210,"u":10,"d":-8},{"x":212,"u":30,"d":-12},{"x":214,"u":51,"d":-23},{"x":216,"u":12,"d":-10},{"x":218,"u":84,"d":-8},{"x":220,"u":20,"d":-15},{"x":222,"u":15,"d":-12},{"x":224,"u":52,"d":-8},{"x":226,"u":10,"d":-10},{"x":228,"u":18,"d":-18},{"x":230,"u":37,"d":-12},{"x":232,"u":12,"d":-8},{"x":234,"u":20,"d":-10},
{"x":236,"u":15,"d":-10},{"x":238,"u":25,"d":-15},{"x":240,"u":56,"d":-26},{"x":242,"u":12,"d":-8},{"x":244,"u":47,"d":-12},{"x":246,"u":20,"d":-10},{"x":248,"u":10,"d":-15},{"x":250,"u":25,"d":-23},{"x":252,"u":18,"d":-8},{"x":254,"u":49,"d":-12},{"x":256,"u":12,"d":-10},{"x":258,"u":20,"d":-15},{"x":260,"u":44,"d":-26},{"x":262,"u":15,"d":-8},{"x":264,"u":59,"d":-12},{"x":266,"u":30,"d":-10},{"x":268,"u":64,"d":-15},{"x":270,"u":20,"d":-29},{"x":272,"u":62,"d":-8},{"x":274,"u":12,"d":-12},{"x":276,"u":27,"d":-10},{"x":278,"u":10,"d":-15},{"x":280,"u":18,"d":-8},{"x":282,"u":34,"d":-23},{"x":284,"u":12,"d":-10},
{"x":286,"u":10,"d":-12},{"x":288,"u":20,"d":-8},{"x":290,"u":15,"d":-15},{"x":292,"u":54,"d":-10},{"x":294,"u":34,"d":-12},{"x":296,"u":12,"d":-26},{"x":298,"u":20,"d":-10},{"x":300,"u":22,"d":-8},{"x":302,"u":10,"d":-31},{"x":304,"u":15,"d":-12},{"x":306,"u":8,"d":-10},
{"x":308,"u":17,"d":-8},{"x":310,"u":10,"d":-19},{"x":312,"u":15,"d":-12},
{"x":13,"u":60,"d":-25},{"x":15,"u":45,"d":-10},{"x":17,"u":90,"d":-30},{"x":19,"u":35,"d":-15},{"x":21,"u":70,"d":-20},{"x":23,"u":75,"d":-33},{"x":25,"u":55,"d":-22},{"x":27,"u":40,"d":-48},{"x":29,"u":80,"d":-25},{"x":31,"u":55,"d":-45},{"x":33,"u":75,"d":-50},{"x":35,"u":50,"d":-30},
{"x":37,"u":40,"d":-22},{"x":39,"u":30,"d":-18},{"x":41,"u":50,"d":-8},{"x":43,"u":35,"d":-20},{"x":45,"u":55,"d":-8},{"x":47,"u":15,"d":-18},{"x":49,"u":50,"d":-8},{"x":51,"u":12,"d":-20},{"x":53,"u":40,"d":-18},{"x":55,"u":45,"d":-10},{"x":57,"u":30,"d":-22},{"x":59,"u":55,"d":-16},{"x":61,"u":15,"d":-8},{"x":63,"u":40,"d":-20},{"x":65,"u":45,"d":-22},{"x":67,"u":30,"d":-15},{"x":69,"u":50,"d":-10},{"x":71,"u":30,"d":-20},{"x":73,"u":45,"d":-8},{"x":75,"u":40,"d":-20},{"x":77,"u":55,"d":-12},{"x":79,"u":40,"d":-20},{"x":81,"u":10,"d":-28},{"x":83,"u":45,"d":-20},
{"x":85,"u":35,"d":-18},{"x":87,"u":40,"d":-6},{"x":89,"u":45,"d":-16},{"x":91,"u":35,"d":-6},{"x":93,"u":30,"d":-14},{"x":95,"u":45,"d":-8},{"x":97,"u":12,"d":-16},{"x":99,"u":40,"d":-14},{"x":101,"u":10,"d":-6},{"x":103,"u":40,"d":-12},{"x":105,"u":20,"d":-8},{"x":107,"u":45,"d":-10},{"x":109,"u":35,"d":-16},{"x":111,"u":30,"d":-6},{"x":113,"u":40,"d":-14},{"x":115,"u":25,"d":-12},{"x":117,"u":40,"d":-8},{"x":119,"u":45,"d":-15},{"x":121,"u":30,"d":-14},{"x":123,"u":35,"d":-6},{"x":125,"u":30,"d":-10},{"x":127,"u":45,"d":-16},{"x":129,"u":40,"d":-18},{"x":131,"u":25,"d":-14},{"x":133,"u":45,"d":-6},{"x":135,"u":30,"d":-12},{"x":137,"u":25,"d":-18},{"x":139,"u":40,"d":-6},{"x":141,"u":20,"d":-16},{"x":143,"u":35,"d":-8},{"x":145,"u":45,"d":-12},{"x":147,"u":10,"d":-15},{"x":149,"u":30,"d":-12},{"x":151,"u":12,"d":-6},{"x":153,"u":40,"d":-18},{"x":155,"u":30,"d":-14},{"x":157,"u":20,"d":-16},{"x":159,"u":40,"d":-12},
{"x":161,"u":40,"d":-15},{"x":163,"u":10,"d":-6},{"x":165,"u":35,"d":-14},{"x":167,"u":20,"d":-6},{"x":169,"u":40,"d":-16},{"x":171,"u":10,"d":-14},{"x":173,"u":35,"d":-6},{"x":175,"u":25,"d":-15},{"x":177,"u":35,"d":-6},{"x":179,"u":30,"d":-10},{"x":181,"u":45,"d":-15},{"x":183,"u":12,"d":-18},{"x":185,"u":30,"d":-14},{"x":187,"u":35,"d":-16},{"x":189,"u":12,"d":-15},{"x":191,"u":40,"d":-8},{"x":193,"u":30,"d":-6},{"x":195,"u":20,"d":-18},{"x":197,"u":12,"d":-12},{"x":199,"u":35,"d":-15},{"x":201,"u":45,"d":-6},{"x":203,"u":10,"d":-16},{"x":205,"u":30,"d":-8},{"x":207,"u":12,"d":-14},{"x":209,"u":40,"d":-16},{"x":211,"u":35,"d":-14},{"x":213,"u":12,"d":-18},{"x":215,"u":25,"d":-12},{"x":217,"u":45,"d":-16},{"x":219,"u":30,"d":-14},{"x":221,"u":50,"d":-8},{"x":223,"u":35,"d":-16},{"x":225,"u":20,"d":-15},{"x":227,"u":40,"d":-6},{"x":229,"u":30,"d":-10},{"x":231,"u":12,"d":-15},{"x":233,"u":35,"d":-16},{"x":235,"u":10,"d":-6},
{"x":237,"u":45,"d":-18},{"x":239,"u":12,"d":-8},{"x":241,"u":30,"d":-14},{"x":243,"u":30,"d":-16},{"x":245,"u":12,"d":-6},{"x":247,"u":40,"d":-18},{"x":249,"u":35,"d":-10},{"x":251,"u":12,"d":-14},{"x":253,"u":35,"d":-16},{"x":255,"u":15,"d":-6},{"x":257,"u":40,"d":-18},{"x":259,"u":35,"d":-8},{"x":261,"u":12,"d":-14},{"x":263,"u":35,"d":-16},{"x":265,"u":20,"d":-6},{"x":267,"u":40,"d":-18},{"x":269,"u":25,"d":-10},{"x":271,"u":40,"d":-14},{"x":273,"u":20,"d":-15},{"x":275,"u":40,"d":-6},{"x":277,"u":12,"d":-18},{"x":279,"u":35,"d":-12},{"x":281,"u":10,"d":-14},{"x":283,"u":15,"d":-15},{"x":285,"u":30,"d":-18},
{"x":287,"u":35,"d":-16},{"x":289,"u":10,"d":-12},{"x":291,"u":30,"d":-6},{"x":293,"u":12,"d":-18},{"x":295,"u":15,"d":-16},{"x":297,"u":40,"d":-14},{"x":299,"u":10,"d":-16},{"x":301,"u":35,"d":-18},{"x":303,"u":20,"d":-16},{"x":305,"u":30,"d":-18},{"x":307,"u":25,"d":-14},{"x":309,"u":8,"d":-12},{"x":311,"u":25,"d":-6}
],
"F": [
{"x":12,"u":20,"d":-15},{"x":14,"u":37,"d":-33},{"x":16,"u":102,"d":-19},{"x":18,"u":74,"d":-25},{"x":20,"u":50,"d":-29},{"x":22,"u":106,"d":-40},{"x":24,"u":47,"d":-49},{"x":26,"u":30,"d":-30},{"x":28,"u":87,"d":-51},{"x":30,"u":45,"d":-43},{"x":32,"u":99,"d":-35},{"x":34,"u":74,"d":-59},
{"x":36,"u":102,"d":-15},{"x":38,"u":25,"d":-29},{"x":40,"u":77,"d":-10},{"x":42,"u":30,"d":-18},{"x":44,"u":84,"d":-23},{"x":46,"u":15,"d":-12},{"x":48,"u":44,"d":-15},{"x":50,"u":20,"d":-26},{"x":52,"u":47,"d":-10},{"x":54,"u":12,"d":-15},{"x":56,"u":30,"d":-20},{"x":58,"u":67,"d":-33},{"x":60,"u":18,"d":-12},{"x":62,"u":25,"d":-18},{"x":64,"u":72,"d":-36},{"x":66,"u":15,"d":-10},{"x":68,"u":57,"d":-15},{"x":70,"u":20,"d":-12},{"x":72,"u":76,"d":-20},{"x":74,"u":12,"d":-26},{"x":76,"u":61,"d":-10},{"x":78,"u":25,"d":-15},{"x":80,"u":51,"d":-12},{"x":82,"u":15,"d":-43},
{"x":84,"u":49,"d":-12},{"x":86,"u":15,"d":-8},{"x":88,"u":25,"d":-15},{"x":90,"u":69,"d":-10},{"x":92,"u":20,"d":-12},{"x":94,"u":84,"d":-8},{"x":96,"u":12,"d":-15},{"x":98,"u":31,"d":-10},{"x":100,"u":18,"d":-12},{"x":102,"u":47,"d":-8},{"x":104,"u":10,"d":-26},{"x":106,"u":20,"d":-12},{"x":108,"u":15,"d":-10},{"x":110,"u":67,"d":-29},{"x":112,"u":12,"d":-8},{"x":114,"u":56,"d":-12},{"x":116,"u":20,"d":-15},{"x":118,"u":15,"d":-10},{"x":120,"u":71,"d":-8},{"x":122,"u":12,"d":-12},{"x":124,"u":25,"d":-33},{"x":126,"u":62,"d":-10},{"x":128,"u":18,"d":-15},{"x":130,"u":76,"d":-36},{"x":132,"u":15,"d":-8},{"x":134,"u":20,"d":-12},{"x":136,"u":10,"d":-10},{"x":138,"u":37,"d":-15},{"x":140,"u":15,"d":-26},{"x":142,"u":44,"d":-8},{"x":144,"u":12,"d":-12},{"x":146,"u":20,"d":-10},{"x":148,"u":67,"d":-15},{"x":150,"u":15,"d":-29},{"x":152,"u":47,"d":-8},{"x":154,"u":10,"d":-12},{"x":156,"u":25,"d":-10},{"x":158,"u":12,"d":-15},
{"x":160,"u":15,"d":-10},{"x":162,"u":10,"d":-15},{"x":164,"u":34,"d":-8},{"x":166,"u":20,"d":-12},{"x":168,"u":47,"d":-29},{"x":170,"u":12,"d":-10},{"x":172,"u":25,"d":-15},{"x":174,"u":15,"d":-8},{"x":176,"u":61,"d":-36},{"x":178,"u":20,"d":-12},{"x":180,"u":59,"d":-10},{"x":182,"u":12,"d":-15},{"x":184,"u":25,"d":-8},{"x":186,"u":52,"d":-12},{"x":188,"u":15,"d":-33},{"x":190,"u":10,"d":-10},{"x":192,"u":25,"d":-8},{"x":194,"u":67,"d":-15},{"x":196,"u":20,"d":-12},{"x":198,"u":12,"d":-26},{"x":200,"u":51,"d":-10},{"x":202,"u":15,"d":-8},{"x":204,"u":25,"d":-15},{"x":206,"u":10,"d":-12},{"x":208,"u":54,"d":-29},{"x":210,"u":18,"d":-10},{"x":212,"u":12,"d":-8},{"x":214,"u":25,"d":-12},{"x":216,"u":69,"d":-15},{"x":218,"u":15,"d":-10},{"x":220,"u":86,"d":-8},{"x":222,"u":20,"d":-20},{"x":224,"u":10,"d":-12},{"x":226,"u":51,"d":-10},{"x":228,"u":15,"d":-15},{"x":230,"u":25,"d":-8},{"x":232,"u":12,"d":-12},{"x":234,"u":20,"d":-10},
{"x":236,"u":12,"d":-10},{"x":238,"u":51,"d":-15},{"x":240,"u":20,"d":-8},{"x":242,"u":15,"d":-12},{"x":244,"u":52,"d":-26},{"x":246,"u":10,"d":-10},{"x":248,"u":25,"d":-15},{"x":250,"u":15,"d":-12},{"x":252,"u":51,"d":-29},{"x":254,"u":20,"d":-8},{"x":256,"u":12,"d":-12},{"x":258,"u":54,"d":-10},{"x":260,"u":15,"d":-15},{"x":262,"u":51,"d":-29},{"x":264,"u":20,"d":-10},{"x":266,"u":12,"d":-8},{"x":268,"u":30,"d":-12},{"x":270,"u":84,"d":-38},{"x":272,"u":20,"d":-10},{"x":274,"u":37,"d":-15},{"x":276,"u":12,"d":-8},{"x":278,"u":10,"d":-12},{"x":280,"u":27,"d":-10},{"x":282,"u":15,"d":-15},{"x":284,"u":10,"d":-8},
{"x":286,"u":20,"d":-12},{"x":288,"u":12,"d":-23},{"x":290,"u":41,"d":-8},{"x":292,"u":15,"d":-15},{"x":294,"u":10,"d":-10},{"x":296,"u":46,"d":-26},{"x":298,"u":20,"d":-12},{"x":300,"u":24,"d":-8},{"x":302,"u":12,"d":-15},{"x":304,"u":8,"d":-10},{"x":306,"u":39,"d":-23},
{"x":308,"u":12,"d":-12},{"x":310,"u":17,"d":-15},{"x":312,"u":10,"d":-10},
{"x":13,"u":55,"d":-25},{"x":15,"u":65,"d":-10},{"x":17,"u":40,"d":-35},{"x":19,"u":95,"d":-15},{"x":21,"u":75,"d":-45},{"x":23,"u":60,"d":-25},{"x":25,"u":80,"d":-20},{"x":27,"u":60,"d":-45},{"x":29,"u":40,"d":-30},{"x":31,"u":70,"d":-50},{"x":33,"u":45,"d":-50},{"x":35,"u":40,"d":-30},
{"x":37,"u":50,"d":-22},{"x":39,"u":55,"d":-18},{"x":41,"u":40,"d":-25},{"x":43,"u":60,"d":-12},{"x":45,"u":35,"d":-10},{"x":47,"u":55,"d":-25},{"x":49,"u":12,"d":-22},{"x":51,"u":50,"d":-12},{"x":53,"u":20,"d":-22},{"x":55,"u":40,"d":-25},{"x":57,"u":55,"d":-12},{"x":59,"u":35,"d":-20},{"x":61,"u":50,"d":-25},{"x":63,"u":45,"d":-28},{"x":65,"u":30,"d":-18},{"x":67,"u":45,"d":-25},{"x":69,"u":25,"d":-25},{"x":71,"u":50,"d":-20},{"x":73,"u":30,"d":-10},{"x":75,"u":45,"d":-15},{"x":77,"u":30,"d":-25},{"x":79,"u":50,"d":-8},{"x":81,"u":20,"d":-28},{"x":83,"u":35,"d":-25},
{"x":85,"u":30,"d":-20},{"x":87,"u":45,"d":-18},{"x":89,"u":40,"d":-8},{"x":91,"u":35,"d":-20},{"x":93,"u":50,"d":-18},{"x":95,"u":40,"d":-16},{"x":97,"u":45,"d":-8},{"x":99,"u":10,"d":-20},{"x":101,"u":35,"d":-18},{"x":103,"u":25,"d":-16},{"x":105,"u":40,"d":-10},{"x":107,"u":45,"d":-20},{"x":109,"u":40,"d":-16},{"x":111,"u":30,"d":-10},{"x":113,"u":40,"d":-18},{"x":115,"u":30,"d":-8},{"x":117,"u":45,"d":-20},{"x":119,"u":40,"d":-18},{"x":121,"u":30,"d":-20},{"x":123,"u":45,"d":-22},{"x":125,"u":40,"d":-12},{"x":127,"u":35,"d":-20},{"x":129,"u":45,"d":-22},{"x":131,"u":30,"d":-14},{"x":133,"u":40,"d":-20},{"x":135,"u":30,"d":-18},{"x":137,"u":35,"d":-20},{"x":139,"u":12,"d":-10},{"x":141,"u":35,"d":-12},{"x":143,"u":25,"d":-18},{"x":145,"u":40,"d":-20},{"x":147,"u":45,"d":-18},{"x":149,"u":30,"d":-8},{"x":151,"u":40,"d":-12},{"x":153,"u":25,"d":-20},{"x":155,"u":40,"d":-18},{"x":157,"u":10,"d":-20},{"x":159,"u":35,"d":-8},
{"x":161,"u":35,"d":-18},{"x":163,"u":25,"d":-8},{"x":165,"u":12,"d":-20},{"x":167,"u":40,"d":-16},{"x":169,"u":25,"d":-12},{"x":171,"u":35,"d":-18},{"x":173,"u":40,"d":-8},{"x":175,"u":35,"d":-20},{"x":177,"u":30,"d":-18},{"x":179,"u":38,"d":-20},{"x":181,"u":30,"d":-18},{"x":183,"u":45,"d":-8},{"x":185,"u":40,"d":-20},{"x":187,"u":25,"d":-16},{"x":189,"u":35,"d":-12},{"x":191,"u":40,"d":-20},{"x":193,"u":45,"d":-18},{"x":195,"u":30,"d":-8},{"x":197,"u":40,"d":-20},{"x":199,"u":30,"d":-12},{"x":201,"u":25,"d":-18},{"x":203,"u":40,"d":-20},{"x":205,"u":45,"d":-8},{"x":207,"u":30,"d":-18},{"x":209,"u":25,"d":-12},{"x":211,"u":40,"d":-20},{"x":213,"u":35,"d":-18},{"x":215,"u":40,"d":-8},{"x":217,"u":30,"d":-20},{"x":219,"u":45,"d":-18},{"x":221,"u":40,"d":-16},{"x":223,"u":35,"d":-10},{"x":225,"u":30,"d":-20},{"x":227,"u":25,"d":-18},{"x":229,"u":40,"d":-10},{"x":231,"u":35,"d":-20},{"x":233,"u":40,"d":-16},{"x":235,"u":30,"d":-18},
{"x":237,"u":30,"d":-18},{"x":239,"u":25,"d":-6},{"x":241,"u":40,"d":-20},{"x":243,"u":30,"d":-18},{"x":245,"u":25,"d":-15},{"x":247,"u":35,"d":-20},{"x":249,"u":45,"d":-8},{"x":251,"u":30,"d":-16},{"x":253,"u":25,"d":-14},{"x":255,"u":40,"d":-20},{"x":257,"u":30,"d":-18},{"x":259,"u":25,"d":-20},{"x":261,"u":35,"d":-8},{"x":263,"u":30,"d":-14},{"x":265,"u":40,"d":-18},{"x":267,"u":50,"d":-20},{"x":269,"u":45,"d":-22},{"x":271,"u":40,"d":-15},{"x":273,"u":55,"d":-20},{"x":275,"u":20,"d":-8},{"x":277,"u":30,"d":-20},{"x":279,"u":35,"d":-18},{"x":281,"u":12,"d":-20},{"x":283,"u":30,"d":-8},{"x":285,"u":35,"d":-18},
{"x":287,"u":35,"d":-16},{"x":289,"u":25,"d":-12},{"x":291,"u":20,"d":-20},{"x":293,"u":30,"d":-8},{"x":295,"u":28,"d":-18},{"x":297,"u":25,"d":-15},{"x":299,"u":40,"d":-20},{"x":301,"u":8,"d":-18},{"x":303,"u":30,"d":-8},{"x":305,"u":25,"d":-18},{"x":307,"u":20,"d":-14},{"x":309,"u":35,"d":-8},{"x":311,"u":25,"d":-18}
]
},
"concat": [
{"width": 323, "height": 230, "layer": [
 {"data": {"name": "bounds"}, "mark": {"type": "rule", "color": "#c4c4c4", "strokeWidth": 1.6}, "encoding": {"x": {"field": "b", "type": "quantitative", "scale": {"domain": [0, 323], "nice": false, "zero": false}, "axis": null}}},
 {"data": {"name": "A"}, "mark": {"type": "line", "color": "#9a9a9a", "strokeWidth": 1.9}, "encoding": {"x": {"field": "x", "type": "quantitative", "axis": null}, "y": {"field": "d", "type": "quantitative", "scale": {"domain": [-115, 115], "nice": false, "zero": false}, "axis": null}}},
 {"data": {"name": "A"}, "mark": {"type": "line", "color": "black", "strokeWidth": 1.9}, "encoding": {"x": {"field": "x", "type": "quantitative", "axis": null}, "y": {"field": "u", "type": "quantitative", "axis": null}}},
 {"data": {"values": [{}]}, "mark": {"type": "rule", "color": "black", "strokeWidth": 1.5}, "encoding": {"y": {"datum": 0, "type": "quantitative", "axis": null}}},
 {"data": {"values": [{}]}, "mark": {"type": "text", "text": "A", "fontSize": 30, "align": "center", "baseline": "alphabetic"}, "encoding": {"x": {"datum": 259, "type": "quantitative", "axis": null}, "y": {"datum": 82, "type": "quantitative", "axis": null}}},
 {"data": {"values": [{}]}, "mark": {"type": "text", "text": "Uniform", "font": "Liberation Serif", "fontSize": 27, "align": "right", "baseline": "alphabetic"}, "encoding": {"x": {"datum": 270, "type": "quantitative", "axis": null}, "y": {"datum": -106, "type": "quantitative", "axis": null}}}
]},
{"width": 323, "height": 230, "layer": [
 {"data": {"name": "bounds"}, "mark": {"type": "rule", "color": "#c4c4c4", "strokeWidth": 1.6}, "encoding": {"x": {"field": "b", "type": "quantitative", "scale": {"domain": [0, 323], "nice": false, "zero": false}, "axis": null}}},
 {"data": {"name": "B"}, "mark": {"type": "line", "color": "#9a9a9a", "strokeWidth": 1.9}, "encoding": {"x": {"field": "x", "type": "quantitative", "axis": null}, "y": {"field": "d", "type": "quantitative", "scale": {"domain": [-115, 115], "nice": false, "zero": false}, "axis": null}}},
 {"data": {"name": "B"}, "mark": {"type": "line", "color": "black", "strokeWidth": 1.9}, "encoding": {"x": {"field": "x", "type": "quantitative", "axis": null}, "y": {"field": "u", "type": "quantitative", "axis": null}}},
 {"data": {"values": [{}]}, "mark": {"type": "rule", "color": "black", "strokeWidth": 1.5}, "encoding": {"y": {"datum": 0, "type": "quantitative", "axis": null}}},
 {"data": {"values": [{}]}, "mark": {"type": "text", "text": "B", "fontSize": 30, "align": "center", "baseline": "alphabetic"}, "encoding": {"x": {"datum": 259, "type": "quantitative", "axis": null}, "y": {"datum": 82, "type": "quantitative", "axis": null}}},
 {"data": {"values": [{}]}, "mark": {"type": "text", "text": "Avgd", "fontSize": 26, "align": "right", "baseline": "alphabetic"}, "encoding": {"x": {"datum": 264, "type": "quantitative", "axis": null}, "y": {"datum": -102, "type": "quantitative", "axis": null}}}
]},
{"width": 313, "height": 230, "view": {"stroke": null}, "layer": [
 {"data": {"name": "bounds"}, "mark": {"type": "rule", "color": "#c4c4c4", "strokeWidth": 1.6}, "encoding": {"x": {"field": "b", "type": "quantitative", "scale": {"domain": [0, 313], "nice": false, "zero": false}, "axis": null}}},
 {"data": {"name": "C"}, "mark": {"type": "line", "color": "#9a9a9a", "strokeWidth": 1.9}, "encoding": {"x": {"field": "x", "type": "quantitative", "axis": null}, "y": {"field": "d", "type": "quantitative", "scale": {"domain": [-115, 115], "nice": false, "zero": false}, "axis": null}}},
 {"data": {"name": "C"}, "mark": {"type": "line", "color": "black", "strokeWidth": 1.9}, "encoding": {"x": {"field": "x", "type": "quantitative", "axis": null}, "y": {"field": "u", "type": "quantitative", "axis": null}}},
 {"data": {"values": [{}]}, "mark": {"type": "rule", "color": "black", "strokeWidth": 1.5}, "encoding": {"y": {"datum": 0, "type": "quantitative", "axis": null}}},
 {"data": {"values": [{}]}, "mark": {"type": "rule", "color": "black", "strokeWidth": 1.5}, "encoding": {"y": {"datum": 115, "type": "quantitative", "axis": null}}},
 {"data": {"values": [{}]}, "mark": {"type": "rule", "color": "black", "strokeWidth": 1.5}, "encoding": {"y": {"datum": -115, "type": "quantitative", "axis": null}}},
 {"data": {"values": [{}]}, "mark": {"type": "rule", "color": "black", "strokeWidth": 1.5}, "encoding": {"x": {"datum": 0, "type": "quantitative", "axis": null}}},
 {"data": {"values": [{}]}, "mark": {"type": "text", "text": "C", "fontSize": 30, "align": "center", "baseline": "alphabetic"}, "encoding": {"x": {"datum": 259, "type": "quantitative", "axis": null}, "y": {"datum": 82, "type": "quantitative", "axis": null}}},
 {"data": {"values": [{}]}, "mark": {"type": "text", "text": "Avgd[Obsd]", "fontSize": 26, "align": "right", "baseline": "alphabetic"}, "encoding": {"x": {"datum": 280, "type": "quantitative", "axis": null}, "y": {"datum": -104, "type": "quantitative", "axis": null}}}
]},
{"width": 323, "height": 230, "layer": [
 {"data": {"name": "bounds"}, "mark": {"type": "rule", "color": "#c4c4c4", "strokeWidth": 1.6}, "encoding": {"x": {"field": "b", "type": "quantitative", "scale": {"domain": [0, 323], "nice": false, "zero": false}, "axis": {"values": [23, 58, 121, 195.5, 258.5, 293], "labelExpr": "datum.value < 40 ? '2' : datum.value < 90 ? '3' : datum.value < 150 ? '4' : datum.value < 220 ? '5' : datum.value < 280 ? '6' : '7'", "ticks": false, "domain": false, "grid": false, "labelFont": "Liberation Sans", "labelFontSize": 27, "labelColor": "black", "labelPadding": 8, "labelFlush": false, "labelOverlap": false, "title": null}}}},
 {"data": {"name": "D"}, "mark": {"type": "line", "color": "#9a9a9a", "strokeWidth": 1.9}, "encoding": {"x": {"field": "x", "type": "quantitative"}, "y": {"field": "d", "type": "quantitative", "scale": {"domain": [-115, 115], "nice": false, "zero": false}, "axis": {"title": "Relative Coefficient Magnitude", "titleFont": "Liberation Serif", "titleFontSize": 31, "titleFontWeight": "normal", "titleColor": "black", "labels": false, "ticks": false, "domain": false, "grid": false, "titleX": -17, "titleY": -4, "titleAngle": 270, "titleAlign": "center", "titleBaseline": "bottom"}}}},
 {"data": {"name": "D"}, "mark": {"type": "line", "color": "black", "strokeWidth": 1.9}, "encoding": {"x": {"field": "x", "type": "quantitative"}, "y": {"field": "u", "type": "quantitative"}}},
 {"data": {"values": [{}]}, "mark": {"type": "rule", "color": "black", "strokeWidth": 1.5}, "encoding": {"y": {"datum": 0, "type": "quantitative"}}},
 {"data": {"values": [{}]}, "mark": {"type": "text", "text": "D", "fontSize": 30, "align": "center", "baseline": "alphabetic"}, "encoding": {"x": {"datum": 259, "type": "quantitative"}, "y": {"datum": 82, "type": "quantitative"}}},
 {"data": {"values": [{}]}, "mark": {"type": "text", "text": "Avgd[75/25]", "fontSize": 26, "align": "right", "baseline": "alphabetic"}, "encoding": {"x": {"datum": 280, "type": "quantitative"}, "y": {"datum": -104, "type": "quantitative"}}}
]},
{"width": 323, "height": 230, "layer": [
 {"data": {"name": "bounds"}, "mark": {"type": "rule", "color": "#c4c4c4", "strokeWidth": 1.6}, "encoding": {"x": {"field": "b", "type": "quantitative", "scale": {"domain": [0, 323], "nice": false, "zero": false}, "axis": {"values": [23, 58, 121, 195.5, 258.5, 293], "labelExpr": "datum.value < 40 ? '2' : datum.value < 90 ? '3' : datum.value < 150 ? '4' : datum.value < 220 ? '5' : datum.value < 280 ? '6' : '7'", "ticks": false, "domain": false, "grid": false, "labelFont": "Liberation Sans", "labelFontSize": 27, "labelColor": "black", "labelPadding": 8, "labelFlush": false, "labelOverlap": false, "title": "Linkage Cardinality", "titleFont": "Liberation Serif", "titleFontSize": 31, "titleFontWeight": "normal", "titleColor": "black", "titlePadding": 20}}}},
 {"data": {"name": "E"}, "mark": {"type": "line", "color": "#9a9a9a", "strokeWidth": 1.9}, "encoding": {"x": {"field": "x", "type": "quantitative"}, "y": {"field": "d", "type": "quantitative", "scale": {"domain": [-115, 115], "nice": false, "zero": false}, "axis": null}}},
 {"data": {"name": "E"}, "mark": {"type": "line", "color": "black", "strokeWidth": 1.9}, "encoding": {"x": {"field": "x", "type": "quantitative"}, "y": {"field": "u", "type": "quantitative", "axis": null}}},
 {"data": {"values": [{}]}, "mark": {"type": "rule", "color": "black", "strokeWidth": 1.5}, "encoding": {"y": {"datum": 0, "type": "quantitative", "axis": null}}},
 {"data": {"values": [{}]}, "mark": {"type": "text", "text": "E", "fontSize": 30, "align": "center", "baseline": "alphabetic"}, "encoding": {"x": {"datum": 259, "type": "quantitative"}, "y": {"datum": 82, "type": "quantitative", "axis": null}}},
 {"data": {"values": [{}]}, "mark": {"type": "text", "text": "Avgd[mean]", "fontSize": 26, "align": "right", "baseline": "alphabetic"}, "encoding": {"x": {"datum": 282, "type": "quantitative"}, "y": {"datum": -104, "type": "quantitative", "axis": null}}}
]},
{"width": 313, "height": 230, "view": {"stroke": null}, "layer": [
 {"data": {"name": "bounds"}, "mark": {"type": "rule", "color": "#c4c4c4", "strokeWidth": 1.6}, "encoding": {"x": {"field": "b", "type": "quantitative", "scale": {"domain": [0, 313], "nice": false, "zero": false}, "axis": {"values": [23, 58, 121, 195.5, 258.5, 293], "labelExpr": "datum.value < 40 ? '2' : datum.value < 90 ? '3' : datum.value < 150 ? '4' : datum.value < 220 ? '5' : datum.value < 280 ? '6' : '7'", "ticks": false, "domain": false, "grid": false, "labelFont": "Liberation Sans", "labelFontSize": 27, "labelColor": "black", "labelPadding": 8, "labelFlush": false, "labelOverlap": false, "title": null}}}},
 {"data": {"name": "F"}, "mark": {"type": "line", "color": "#9a9a9a", "strokeWidth": 1.9}, "encoding": {"x": {"field": "x", "type": "quantitative"}, "y": {"field": "d", "type": "quantitative", "scale": {"domain": [-115, 115], "nice": false, "zero": false}, "axis": null}}},
 {"data": {"name": "F"}, "mark": {"type": "line", "color": "black", "strokeWidth": 1.9}, "encoding": {"x": {"field": "x", "type": "quantitative"}, "y": {"field": "u", "type": "quantitative", "axis": null}}},
 {"data": {"values": [{}]}, "mark": {"type": "rule", "color": "black", "strokeWidth": 1.5}, "encoding": {"y": {"datum": 0, "type": "quantitative", "axis": null}}},
 {"data": {"values": [{}]}, "mark": {"type": "rule", "color": "black", "strokeWidth": 1.5}, "encoding": {"y": {"datum": 115, "type": "quantitative", "axis": null}}},
 {"data": {"values": [{}]}, "mark": {"type": "rule", "color": "black", "strokeWidth": 1.5}, "encoding": {"y": {"datum": -115, "type": "quantitative", "axis": null}}},
 {"data": {"values": [{}]}, "mark": {"type": "rule", "color": "black", "strokeWidth": 1.5}, "encoding": {"x": {"datum": 0, "type": "quantitative"}}},
 {"data": {"values": [{}]}, "mark": {"type": "text", "text": "F", "fontSize": 30, "align": "center", "baseline": "alphabetic"}, "encoding": {"x": {"datum": 259, "type": "quantitative"}, "y": {"datum": 82, "type": "quantitative", "axis": null}}},
 {"data": {"values": [{}]}, "mark": {"type": "text", "text": "Tissue−sp.", "fontSize": 26, "align": "right", "baseline": "alphabetic"}, "encoding": {"x": {"datum": 278, "type": "quantitative"}, "y": {"datum": -104, "type": "quantitative", "axis": null}}}
]}
]
}
